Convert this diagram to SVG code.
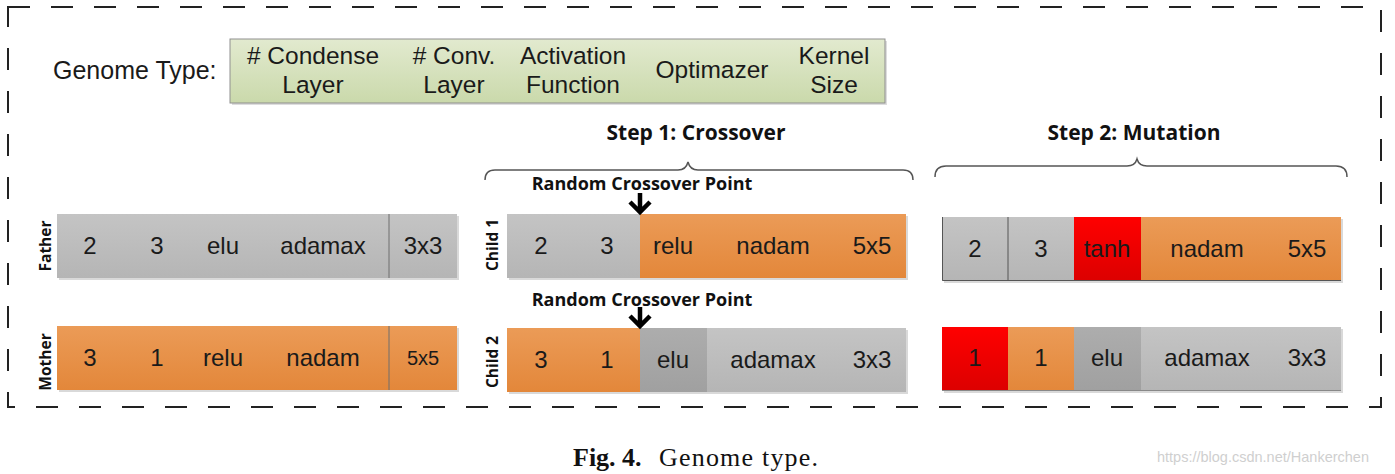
<svg xmlns="http://www.w3.org/2000/svg" width="1395" height="474" viewBox="0 0 1395 474">
<defs>
<linearGradient id="gGray" x1="0" y1="0" x2="0" y2="1"><stop offset="0" stop-color="#c4c4c4"/><stop offset="1" stop-color="#b5b5b5"/></linearGradient>
<linearGradient id="gDark" x1="0" y1="0" x2="0" y2="1"><stop offset="0" stop-color="#adadad"/><stop offset="1" stop-color="#a0a0a0"/></linearGradient>
<linearGradient id="gOrange" x1="0" y1="0" x2="0" y2="1"><stop offset="0" stop-color="#eb9b57"/><stop offset="1" stop-color="#e3873a"/></linearGradient>
<linearGradient id="gRed" x1="0" y1="0" x2="0" y2="1"><stop offset="0" stop-color="#ff0000"/><stop offset="1" stop-color="#dc0000"/></linearGradient>
<linearGradient id="gGreen" x1="0" y1="0" x2="0" y2="1"><stop offset="0" stop-color="#e2eacf"/><stop offset="1" stop-color="#cad9ab"/></linearGradient>
</defs>
<style>
.t{font-family:"Liberation Sans",Arial,sans-serif;font-size:24px;fill:#1a1a1a;text-anchor:middle}
.h{font-family:"Liberation Sans",Arial,sans-serif;font-size:24.5px;fill:#1a1a1a;text-anchor:middle}
.b{font-family:"Open Sans","Liberation Sans",sans-serif;font-weight:bold;fill:#111;text-anchor:middle}
.lab{font-family:"Open Sans","Liberation Sans",sans-serif;font-weight:bold;font-size:15.5px;fill:#111;text-anchor:middle}
.sh{fill:#d9d9d9}
.div{stroke:#6e6e6e;stroke-width:1}
.brace{fill:none;stroke:#555;stroke-width:1.5}
.arr{fill:none;stroke:#000;stroke-width:4.5}
</style>
<rect x="8" y="7" width="1373" height="400" fill="none" stroke="#222" stroke-width="2" stroke-dasharray="22 21"/>
<g id="genome-type">
<text x="53" y="79" class="h" style="text-anchor:start;font-size:25px">Genome Type:</text>
<rect x="232" y="41" width="655" height="64" fill="#ddd"/>
<rect x="230" y="39" width="655" height="64" fill="url(#gGreen)" stroke="#8f8f8f" stroke-width="1"/>
<text x="313" y="64" class="h">#&#160;Condense</text><text x="313" y="93" class="h">Layer</text>
<text x="454" y="64" class="h"># Conv.</text><text x="454" y="93" class="h">Layer</text>
<text x="573" y="64" class="h">Activation</text><text x="573" y="93" class="h">Function</text>
<text x="712" y="78" class="h">Optimazer</text>
<text x="834" y="64" class="h">Kernel</text><text x="834" y="93" class="h">Size</text>
</g>
<g id="step1-label"><text x="696" y="140" class="b" font-size="21">Step 1: Crossover</text></g>
<g id="step2-label"><text x="1134" y="140" class="b" font-size="21">Step 2: Mutation</text></g>
<g id="father">
<rect x="59" y="216" width="400" height="64" class="sh"/>
<rect x="57" y="214" width="400" height="64" fill="url(#gGray)"/>
<line x1="389" y1="214" x2="389" y2="278" class="div"/>
<text x="90" y="254" class="t">2</text><text x="157" y="254" class="t">3</text><text x="223" y="254" class="t">elu</text><text x="323" y="254" class="t">adamax</text><text x="423" y="254" class="t">3x3</text>
<text transform="translate(51,246) rotate(-90)" class="lab">Father</text>
</g>
<g id="mother">
<rect x="59" y="328" width="400" height="64" class="sh"/>
<rect x="57" y="326" width="400" height="64" fill="url(#gOrange)"/>
<line x1="389" y1="326" x2="389" y2="390" class="div"/>
<text x="90" y="366" class="t">3</text><text x="157" y="366" class="t">1</text><text x="223" y="366" class="t">relu</text><text x="323" y="366" class="t">nadam</text><text x="423" y="365" class="t" style="font-size:20px">5x5</text>
<text transform="translate(51,362) rotate(-90)" class="lab">Mother</text>
</g>
<g id="child1">
<rect x="509" y="216" width="399" height="64" class="sh"/>
<rect x="507" y="214" width="133" height="64" fill="url(#gGray)"/>
<rect x="640" y="214" width="266" height="64" fill="url(#gOrange)"/>
<text x="541" y="254" class="t">2</text><text x="607" y="254" class="t">3</text><text x="673" y="254" class="t">relu</text><text x="773" y="254" class="t">nadam</text><text x="872" y="254" class="t">5x5</text>
<text transform="translate(498,245) rotate(-90)" class="lab">Child 1</text>
<text x="642" y="190" class="b" font-size="18">Random Crossover Point</text>
</g>
<g id="child2">
<rect x="509" y="330" width="399" height="64" class="sh"/>
<rect x="507" y="328" width="133" height="64" fill="url(#gOrange)"/>
<rect x="640" y="328" width="67" height="64" fill="url(#gDark)"/>
<rect x="707" y="328" width="199" height="64" fill="url(#gGray)"/>
<text x="541" y="368" class="t">3</text><text x="607" y="368" class="t">1</text><text x="673" y="368" class="t">elu</text><text x="773" y="368" class="t">adamax</text><text x="872" y="368" class="t">3x3</text>
<text transform="translate(498,362) rotate(-90)" class="lab">Child 2</text>
<text x="642" y="306" class="b" font-size="18">Random Crossover Point</text>
</g>
<g id="mutant1">
<rect x="944" y="219" width="399" height="64" class="sh"/>
<rect x="942" y="217" width="66" height="64" fill="url(#gGray)"/>
<rect x="1008" y="217" width="66" height="64" fill="url(#gGray)"/>
<rect x="1074" y="217" width="67" height="64" fill="url(#gRed)"/>
<rect x="1141" y="217" width="200" height="64" fill="url(#gOrange)"/>
<path d="M942.5 217V280.5H1341M1008 217V281" stroke="#555" stroke-width="1" fill="none"/>
<text x="975" y="257" class="t">2</text><text x="1041" y="257" class="t">3</text><text x="1107" y="257" class="t">tanh</text><text x="1207" y="257" class="t">nadam</text><text x="1307" y="257" class="t">5x5</text>
</g>
<g id="mutant2">
<rect x="944" y="329" width="399" height="64" class="sh"/>
<rect x="942" y="327" width="66" height="64" fill="url(#gRed)"/>
<rect x="1008" y="327" width="66" height="64" fill="url(#gOrange)"/>
<rect x="1074" y="327" width="67" height="64" fill="url(#gDark)"/>
<rect x="1141" y="327" width="200" height="64" fill="url(#gGray)"/>
<line x1="942" y1="390.5" x2="1341" y2="390.5" stroke="#888" stroke-width="1"/>
<text x="975" y="366" class="t">1</text><text x="1041" y="366" class="t">1</text><text x="1107" y="366" class="t">elu</text><text x="1207" y="366" class="t">adamax</text><text x="1307" y="366" class="t">3x3</text>
</g>
<g id="connectors">
<path class="brace" d="M485 180Q485 170 495 170H678Q686 170 688 162Q690 170 698 170H903Q913 170 913 180"/>
<path class="brace" d="M935 177Q935 166 946 166H1127Q1135 166 1137 159Q1139 166 1147 166H1336Q1347 166 1347 177"/>
<path class="arr" d="M640 193V210M630 202L640 212L650 202"/>
<path class="arr" d="M640 307V324M630 316L640 326L650 316"/>
</g>
<g id="caption">
<text x="573" y="466" font-family="'Liberation Serif',serif" font-size="26" font-weight="bold" fill="#111">Fig. 4.</text>
<text x="659" y="466" font-family="'Liberation Serif',serif" font-size="26" fill="#111" textLength="159" lengthAdjust="spacing">Genome type.</text>
<text x="1157" y="462" font-family="'Liberation Sans',sans-serif" font-size="14.5" fill="#cfcfcf">https://blog.csdn.net/Hankerchen</text>
</g>
</svg>
